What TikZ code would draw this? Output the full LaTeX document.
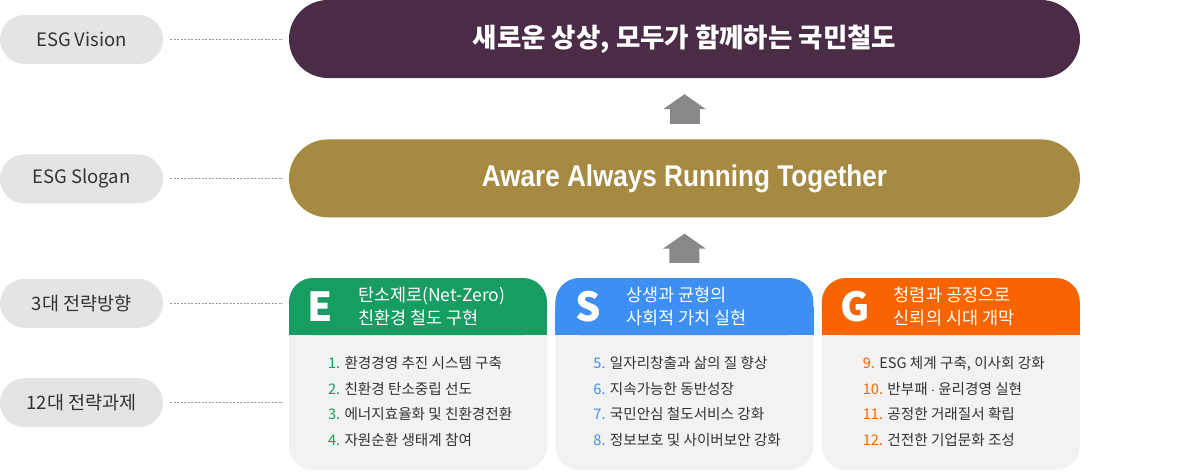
\documentclass[tikz,border=0pt]{standalone}
\usepackage{fontspec}
\setmainfont{Noto Sans CJK KR}
\newfontfamily\slogfont[FakeStretch=0.87]{Liberation Sans}
\newfontfamily\visionfont{Noto Sans CJK KR}
\usepackage{tikz}
\usetikzlibrary{positioning,arrows.meta}
\definecolor{lblgray}{HTML}{E4E4E4}
\definecolor{lbltext}{HTML}{333333}
\definecolor{dotgray}{HTML}{999999}
\definecolor{viscol}{HTML}{4B2C47}
\definecolor{slogcol}{HTML}{A68A41}
\definecolor{arrgray}{HTML}{888888}
\definecolor{bodygray}{HTML}{F2F2F2}
\definecolor{ecol}{HTML}{179C62}
\definecolor{scol}{HTML}{3D8FF3}
\definecolor{gcol}{HTML}{F86400}

\begin{document}
\begin{tikzpicture}[
		x=1pt, y=-1pt,
		lbl/.style={fill=lblgray, rounded corners=24.5pt, minimum width=163pt,
			minimum height=49pt, inner sep=0pt, text=lbltext,
			font=\fontsize{18.5}{18.5}\selectfont},
		bigbox/.style={rounded corners=39pt, minimum width=791pt,
			minimum height=78pt, inner sep=0pt, text=white},
		dotline/.style={draw=dotgray, line width=1pt, dash pattern=on 2pt off 1.5pt,
			shorten <=7pt, shorten >=6pt},
		uparrow/.style={draw=arrgray, line width=30pt,
			-{Triangle[width=42pt, length=15pt]}, shorten <=15pt, shorten >=16pt},
		body/.style={fill=bodygray, rounded corners=24pt, minimum width=258pt,
			minimum height=192pt, inner sep=0pt},
		head/.style={rounded corners=24pt, minimum width=258pt,
			minimum height=57pt, inner sep=0pt},
		letter/.style={text=white, inner sep=0pt,
			font=\fontsize{40}{40}\selectfont\bfseries},
		headtxt/.style={text=white, inner sep=0pt, align=left, anchor=west,
			font=\fontsize{17.5}{22.5}\selectfont},
		items/.style={text=lbltext, inner sep=0pt, align=left, anchor=west,
			font=\fontsize{14.6}{25.7}\selectfont}
		]
		\useasboundingbox (0,0) rectangle (1202,472);
		
		% left labels
		\node[lbl] (vlbl) at (81.5,39.5) {ESG Vision};
		\node[lbl, below=90pt of vlbl] (slbl) {ESG Slogan};
		\node[lbl, below=75pt of slbl] (dlbl) {3대 전략방향};
		\node[lbl, below=50pt of dlbl] (tlbl) {12대 전략과제};
		
		% vision and slogan
		\node[bigbox, fill=viscol] (vision) at (684.5,39)
			{\fontsize{26.5}{26.5}\visionfont\bfseries 새로운 상상, 모두가 함께하는 국민철도};
		\node[bigbox, fill=slogcol, below=61pt of vision] (slogan)
			{\fontsize{30}{30}\slogfont\bfseries Aware Always Running Together};
		
		% panels
		\node[body] (Ebody) at (418,374) {};
		\node[body, right=8pt of Ebody] (Sbody) {};
		\node[body, right=8pt of Sbody] (Gbody) {};
		
		\node[head, fill=ecol, below=0pt of Ebody.north] (Ehead) {};
		\fill[ecol] (Ehead.west) rectangle (Ehead.south east);
		\node[head, fill=scol, below=0pt of Sbody.north] (Shead) {};
		\fill[scol] (Shead.west) rectangle (Shead.south east);
		\node[head, fill=gcol, below=0pt of Gbody.north] (Ghead) {};
		\fill[gcol] (Ghead.west) rectangle (Ghead.south east);
		
		\node[letter] (Elet) at ([xshift=31pt]Ehead.west) {E};
		\node[headtxt] (Etxt) at ([xshift=69pt]Ehead.west) {탄소제로(Net-Zero)\\친환경 철도 구현};
		\node[letter] (Slet) at ([xshift=33pt]Shead.west) {S};
		\node[headtxt] (Stxt) at ([xshift=71pt]Shead.west) {상생과 균형의\\사회적 가치 실현};
		\node[letter] (Glet) at ([xshift=34pt]Ghead.west) {G};
		\node[headtxt] (Gtxt) at ([xshift=72pt]Ghead.west) {청렴과 공정으로\\신뢰의 시대 개막};
		
		\node[items] (Eitems) at ([xshift=39pt, yshift=-27.5pt]Ebody.west)
			{{\color{ecol}1.} 환경경영 추진 시스템 구축\\
			{\color{ecol}2.} 친환경 탄소중립 선도\\
			{\color{ecol}3.} 에너지효율화 및 친환경전환\\
			{\color{ecol}4.} 자원순환 생태계 참여};
		\node[items] (Sitems) at ([xshift=38pt, yshift=-27.5pt]Sbody.west)
			{{\color{scol}5.} 일자리창출과 삶의 질 향상\\
			{\color{scol}6.} 지속가능한 동반성장\\
			{\color{scol}7.} 국민안심 철도서비스 강화\\
			{\color{scol}8.} 정보보호 및 사이버보안 강화};
		\node[items] (Gitems) at ([xshift=41pt, yshift=-27.5pt]Gbody.west)
			{{\color{gcol}9.} ESG 체계 구축, 이사회 강화\\
			{\color{gcol}10.} 반부패 $\cdot$ 윤리경영 실현\\
			{\color{gcol}11.} 공정한 거래질서 확립\\
			{\color{gcol}12.} 건전한 기업문화 조성};
		
		% arrows
		\draw[uparrow] (slogan.north) -- (vision.south);
		\draw[uparrow] (Shead.north) -- (slogan.south);
		
		% dotted leaders
		\draw[dotline] (vlbl.east) -- (vlbl.east -| vision.west);
		\draw[dotline] (slbl.east) -- (slbl.east -| slogan.west);
		\draw[dotline] (dlbl.east) -- (dlbl.east -| Ehead.west);
		\draw[dotline] (tlbl.east) -- (tlbl.east -| Ebody.west);
	\end{tikzpicture}
\end{document}
